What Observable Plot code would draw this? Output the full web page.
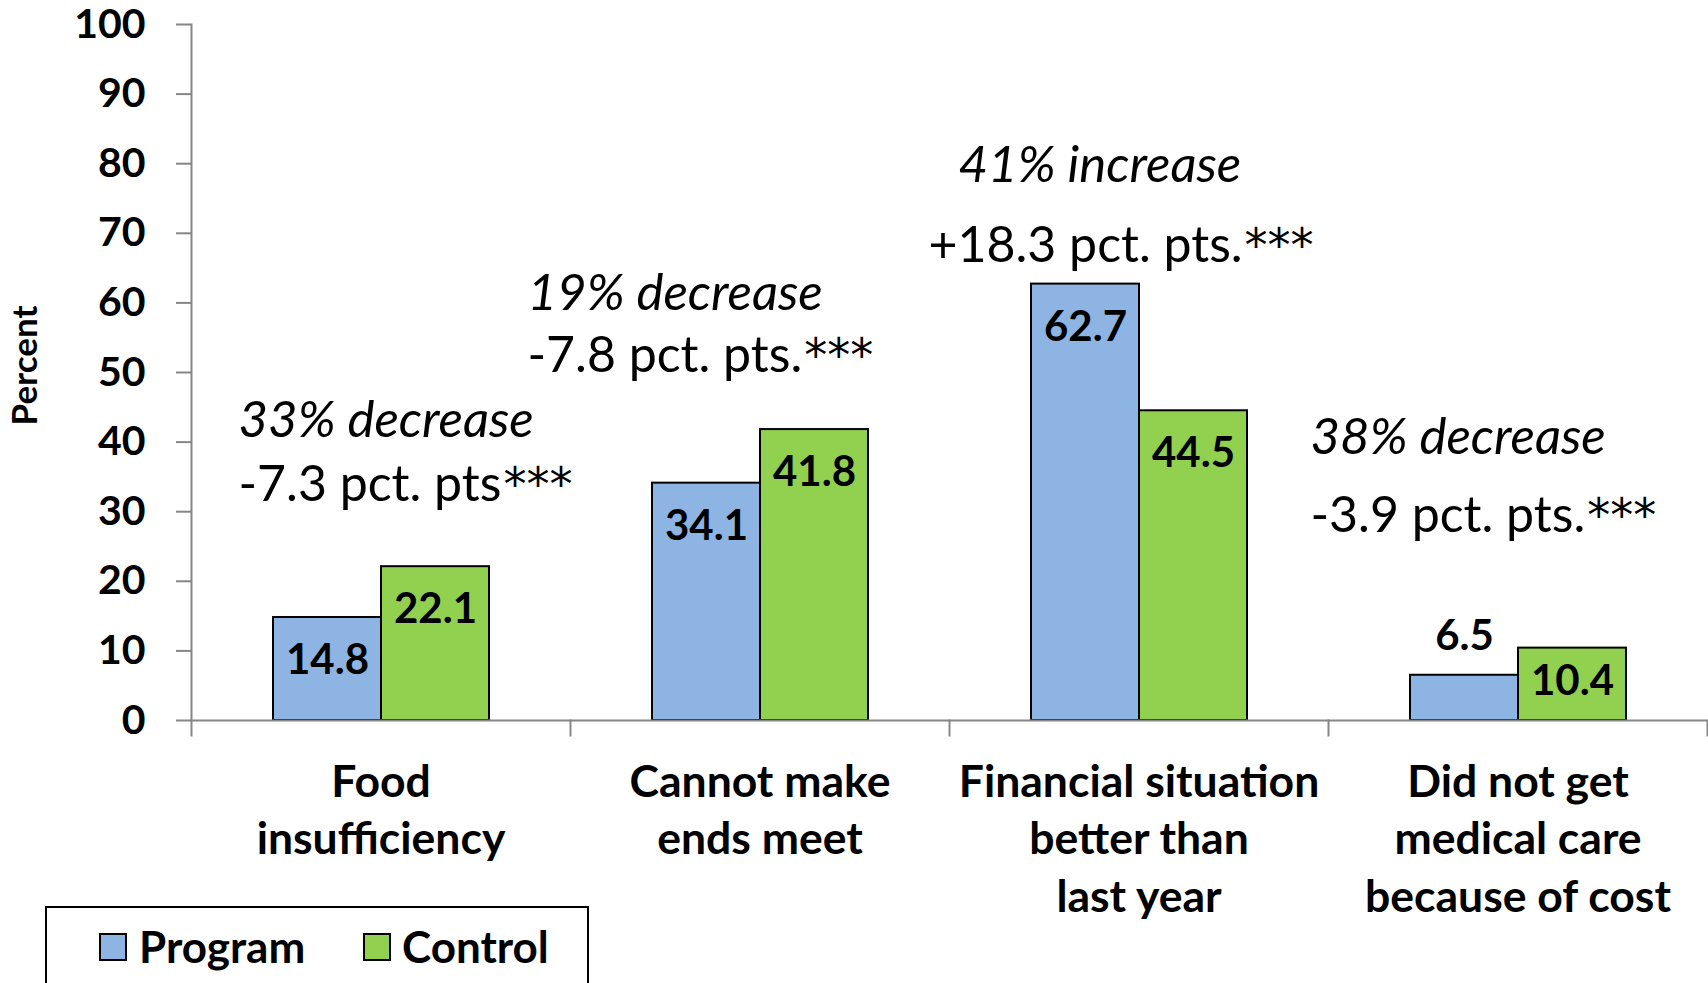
<!DOCTYPE html>
<html>
<head>
<meta charset="utf-8">
<script src="https://cdn.jsdelivr.net/npm/d3@7"></script>
<script src="https://cdn.jsdelivr.net/npm/@observablehq/plot@0.6"></script>
<style>
  html, body { margin: 0; padding: 0; background: #fff; overflow: hidden; }
  #chart { position: relative; width: 1708px; height: 983px; font-family: Lato, sans-serif; }
  #chart svg { display: block; overflow: visible; }
  .legend { position: relative; height: 77px; }
  .legend .box { position: absolute; left: 45px; top: 0; width: 544px; height: 110px; border: 2px solid #000; box-sizing: border-box; }
  .legend .swatch { position: absolute; top: 27px; width: 28px; height: 28px; border: 2px solid #000; box-sizing: border-box; }
  .legend .label { position: absolute; top: 14px; font: bold 44px Lato, sans-serif; color: #000; line-height: normal; }
</style>
</head>
<body>
<div id="chart"></div>
<script>
// Survey outcomes, program vs. control group (percent)
const categories = [
  "Food insufficiency",
  "Cannot make ends meet",
  "Financial situation better than last year",
  "Did not get medical care because of cost"
];
const tickLabels = [
  "Food\ninsufficiency",
  "Cannot make\nends meet",
  "Financial situation\nbetter than\nlast year",
  "Did not get\nmedical care\nbecause of cost"
];
const groups = ["Program", "Control"];
const programValues = [14.8, 34.1, 62.7, 6.5];
const controlValues = [22.1, 41.8, 44.5, 10.4];
const changePercent = ["33% decrease", "19% decrease", "41% increase", "38% decrease"];
const changePoints = ["-7.3 pct. pts", "-7.8 pct. pts.", "+18.3 pct. pts.", "-3.9 pct. pts."];
const significance = ["***", "***", "***", "***"];
const yTicks = [0, 10, 20, 30, 40, 50, 60, 70, 80, 90, 100];
const groupColors = ["#8EB4E3", "#92D050"];

// long table: one row per bar
const rows = categories.flatMap((category, i) => [
  {category, group: groups[0], value: programValues[i]},
  {category, group: groups[1], value: controlValues[i]}
]);

// placement of the two-line change notes above each pair of bars:
// horizontal shift (px) from the category's left edge, and line heights (percent units)
const noteLayout = [
  {dx1: 47, dx2: 47, y1: 43.1, y2: 33.8},
  {dx1: -43, dx2: -43, y1: 61.35, y2: 52.4},
  {dx1: 9, dx2: -21, y1: 79.7, y2: 68.2},
  {dx1: -18, dx2: -18, y1: 40.7, y2: 29.4}
];

const W = 1708, H = 906, mTop = 24, mBottom = 186, mLeft = 190, mRight = 1;
const innerH = H - mTop - mBottom;
const axisGray = "#868686";
const fmt = d => d.value.toFixed(1);

const noteFont = "Lato, sans-serif";
const noteSize = 50;
const starFont = "DejaVu Sans, sans-serif";

// width of the points text, so the significance stars can follow it
const measureCtx = document.createElement("canvas").getContext("2d");
function textWidth(s) {
  measureCtx.font = `${noteSize}px Lato`;
  return measureCtx.measureText(s).width;
}

const valueStyle = {fx: "category", x: "group", y: "value", text: fmt, fontSize: 42, fontWeight: "bold", fill: "black"};

const noteMarks = categories.flatMap((c, i) => [
  Plot.text([changePercent[i]], {
    fx: () => c, y: () => noteLayout[i].y1, text: d => d,
    frameAnchor: "left", textAnchor: "start", dx: noteLayout[i].dx1,
    fontFamily: noteFont, fontSize: 51, fontStyle: "italic", fill: "black"
  }),
  Plot.text([changePoints[i]], {
    fx: () => c, y: () => noteLayout[i].y2, text: d => d,
    frameAnchor: "left", textAnchor: "start", dx: noteLayout[i].dx2,
    fontFamily: noteFont, fontSize: noteSize, fill: "black"
  }),
  Plot.text([significance[i]], {
    fx: () => c, y: () => noteLayout[i].y2, text: d => d,
    frameAnchor: "left", textAnchor: "start",
    dx: noteLayout[i].dx2 + textWidth(changePoints[i]) + 2,
    fontFamily: starFont, fontSize: 46, fill: "black"
  })
]);

const plot = Plot.plot({
  width: W,
  height: H,
  marginTop: mTop,
  marginBottom: mBottom,
  marginLeft: mLeft,
  marginRight: mRight,
  style: {fontFamily: "Lato, sans-serif", background: "white", overflow: "visible"},
  fx: {domain: categories, padding: 0, label: null},
  x: {domain: groups, paddingInner: 0, paddingOuter: 0.748, axis: null},
  y: {domain: [0, 100], label: null},
  color: {domain: groups, range: groupColors},
  marks: [
    Plot.barY(rows, {fx: "category", x: "group", y: "value", fill: "group", stroke: "black", strokeWidth: 2}),
    // value axis line and category axis line
    Plot.frame({anchor: "left", facetAnchor: "left", stroke: axisGray, strokeWidth: 2}),
    Plot.ruleY([0], {stroke: axisGray, strokeWidth: 2}),
    // category boundary ticks below the baseline
    Plot.frame({anchor: "left", insetTop: innerH, insetBottom: -15, stroke: axisGray, strokeWidth: 2}),
    Plot.frame({anchor: "right", facetAnchor: "right", insetTop: innerH, insetBottom: -15, stroke: axisGray, strokeWidth: 2}),
    Plot.axisY({
      ticks: yTicks, tickSize: 15, tickPadding: 31, fontSize: 41, fontWeight: "bold",
      stroke: axisGray, strokeWidth: 2, fill: "black", label: null
    }),
    Plot.axisFx({
      anchor: "bottom", tickSize: 0, tickPadding: 35, fontSize: 44.5, fontWeight: "bold",
      lineHeight: 1.3, fill: "black", label: null,
      tickFormat: c => tickLabels[categories.indexOf(c)]
    }),
    Plot.text(["Percent"], {
      text: d => d, frameAnchor: "left", facetAnchor: "left", rotate: -90,
      textAnchor: "middle", dx: -166, dy: -7, fontSize: 35, fontWeight: "bold", fill: "black"
    }),
    // value labels: inside the top of tall bars, lower in short bars, above the shortest
    Plot.text(rows.filter(d => d.value >= 14), {...valueStyle, dy: 43}),
    Plot.text(rows.filter(d => d.value >= 8 && d.value < 14), {...valueStyle, dy: 33}),
    Plot.text(rows.filter(d => d.value < 8), {...valueStyle, dy: -39}),
    ...noteMarks
  ]
});

const chart = document.getElementById("chart");
chart.appendChild(plot);

// legend below the plot, built from the color scale
const color = plot.scale("color");
const legend = document.createElement("div");
legend.className = "legend";
const box = document.createElement("div");
box.className = "box";
legend.appendChild(box);
const swatchLeft = [99, 363];
const labelLeft = [139, 402];
color.domain.forEach((g, i) => {
  const sw = document.createElement("div");
  sw.className = "swatch";
  sw.style.left = swatchLeft[i] + "px";
  sw.style.background = color.range[i];
  legend.appendChild(sw);
  const lb = document.createElement("div");
  lb.className = "label";
  lb.style.left = labelLeft[i] + "px";
  lb.textContent = g;
  legend.appendChild(lb);
});
chart.appendChild(legend);
</script>
</body>
</html>
